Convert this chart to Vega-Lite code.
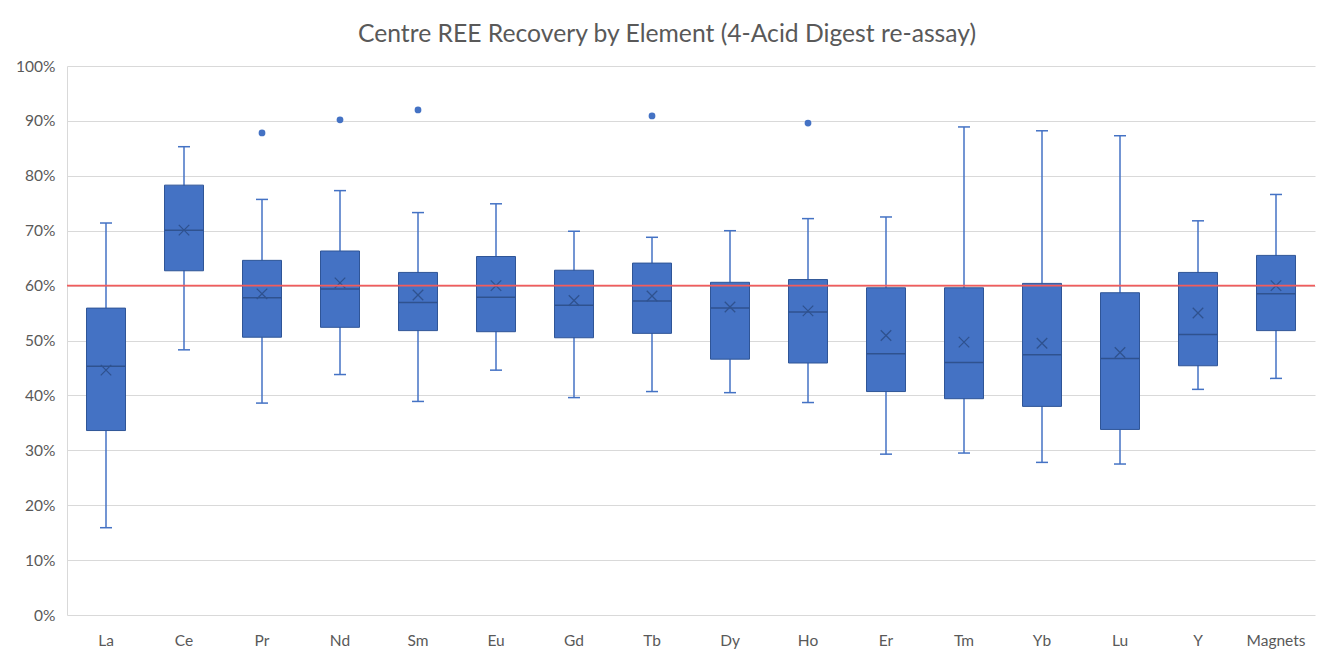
{
  "$schema": "https://vega.github.io/schema/vega-lite/v6.json",
  "width": 1248,
  "height": 549,
  "autosize": {"type": "none"},
  "padding": {"left": 67, "top": 66, "right": 18, "bottom": 42},
  "background": "white",
  "title": {
    "text": "Centre REE Recovery by Element (4-Acid Digest re-assay)",
    "font": "Lato",
    "fontSize": 24.7,
    "fontWeight": "normal",
    "color": "#595959",
    "anchor": "middle",
    "dx": -24,
    "offset": 12
  },
  "config": {
    "view": {"stroke": null},
    "font": "Lato",
    "axis": {"labelFont": "Lato", "labelColor": "#595959", "labelFontSize": 15.5}
  },
  "datasets": {
    "stats": [
      {"el": "La", "min": 15.9, "q1": 33.6, "median": 45.3, "q3": 55.9, "max": 71.4, "mean": 44.6},
      {"el": "Ce", "min": 48.3, "q1": 62.7, "median": 70.1, "q3": 78.3, "max": 85.3, "mean": 70.1},
      {"el": "Pr", "min": 38.6, "q1": 50.6, "median": 57.8, "q3": 64.6, "max": 75.7, "mean": 58.5},
      {"el": "Nd", "min": 43.8, "q1": 52.4, "median": 59.4, "q3": 66.3, "max": 77.3, "mean": 60.5},
      {"el": "Sm", "min": 38.9, "q1": 51.8, "median": 56.9, "q3": 62.4, "max": 73.3, "mean": 58.3},
      {"el": "Eu", "min": 44.6, "q1": 51.6, "median": 57.9, "q3": 65.3, "max": 74.9, "mean": 60.0},
      {"el": "Gd", "min": 39.6, "q1": 50.5, "median": 56.4, "q3": 62.8, "max": 69.9, "mean": 57.3},
      {"el": "Tb", "min": 40.7, "q1": 51.3, "median": 57.2, "q3": 64.1, "max": 68.8, "mean": 58.1},
      {"el": "Dy", "min": 40.5, "q1": 46.6, "median": 55.9, "q3": 60.6, "max": 70.0, "mean": 56.1},
      {"el": "Ho", "min": 38.7, "q1": 45.9, "median": 55.2, "q3": 61.1, "max": 72.2, "mean": 55.4},
      {"el": "Er", "min": 29.3, "q1": 40.7, "median": 47.6, "q3": 59.6, "max": 72.5, "mean": 50.9},
      {"el": "Tm", "min": 29.5, "q1": 39.4, "median": 46.0, "q3": 59.6, "max": 88.9, "mean": 49.7},
      {"el": "Yb", "min": 27.8, "q1": 38.0, "median": 47.4, "q3": 60.4, "max": 88.2, "mean": 49.5},
      {"el": "Lu", "min": 27.5, "q1": 33.8, "median": 46.7, "q3": 58.7, "max": 87.3, "mean": 47.8},
      {"el": "Y", "min": 41.1, "q1": 45.4, "median": 51.1, "q3": 62.4, "max": 71.8, "mean": 55.0},
      {"el": "Magnets", "min": 43.1, "q1": 51.8, "median": 58.5, "q3": 65.5, "max": 76.6, "mean": 60.0}
    ],
    "outliers": [
      {"el": "Pr", "v": 87.8},
      {"el": "Nd", "v": 90.2},
      {"el": "Sm", "v": 92.0},
      {"el": "Tb", "v": 90.9},
      {"el": "Ho", "v": 89.6}
    ]
  },
  "encoding": {
    "x": {
      "field": "el",
      "type": "nominal",
      "sort": ["La","Ce","Pr","Nd","Sm","Eu","Gd","Tb","Dy","Ho","Er","Tm","Yb","Lu","Y","Magnets"],
      "scale": {"paddingInner": 0, "paddingOuter": 0},
      "axis": {"title": null, "labelAngle": 0, "ticks": false, "domain": false, "labelPadding": 18, "grid": false}
    }
  },
  "layer": [
    {
      "data": {"name": "stats"},
      "mark": {"type": "rule", "color": "#4472C4", "strokeWidth": 1.5},
      "encoding": {
        "y": {
          "field": "min", "type": "quantitative",
          "scale": {"domain": [0, 100], "nice": false},
          "axis": {
            "title": null, "values": [0,10,20,30,40,50,60,70,80,90,100],
            "labelExpr": "datum.value + '%'", "ticks": false, "domain": true,
            "domainColor": "#D9D9D9", "gridColor": "#D9D9D9", "labelPadding": 12
          }
        },
        "y2": {"field": "max"}
      }
    },
    {
      "data": {"name": "stats"},
      "mark": {"type": "tick", "color": "#4472C4", "size": 12, "thickness": 1.5, "opacity": 1},
      "encoding": {"y": {"field": "min", "type": "quantitative"}}
    },
    {
      "data": {"name": "stats"},
      "mark": {"type": "tick", "color": "#4472C4", "size": 12, "thickness": 1.5, "opacity": 1},
      "encoding": {"y": {"field": "max", "type": "quantitative"}}
    },
    {
      "data": {"name": "stats"},
      "mark": {"type": "bar", "size": 39, "color": "#4472C4", "stroke": "#2F5597", "strokeWidth": 1, "opacity": 1},
      "encoding": {"y": {"field": "q1", "type": "quantitative"}, "y2": {"field": "q3"}}
    },
    {
      "data": {"name": "stats"},
      "mark": {"type": "tick", "color": "#2F528F", "size": 39, "thickness": 1.5, "opacity": 1},
      "encoding": {"y": {"field": "median", "type": "quantitative"}}
    },
    {
      "data": {"name": "stats"},
      "mark": {"type": "point", "shape": "M-1,-1L1,1M1,-1L-1,1", "size": 110, "filled": false, "stroke": "#2F528F", "strokeWidth": 1.3, "opacity": 1},
      "encoding": {"y": {"field": "mean", "type": "quantitative"}}
    },
    {
      "data": {"name": "outliers"},
      "mark": {"type": "circle", "size": 46, "color": "#4472C4", "opacity": 1},
      "encoding": {"y": {"field": "v", "type": "quantitative"}}
    },
    {
      "data": {"values": [{"ref": 60}]},
      "mark": {"type": "rule", "color": "#F25C5C", "strokeWidth": 1.6, "opacity": 1},
      "encoding": {"y": {"field": "ref", "type": "quantitative"}, "x": null}
    }
  ]
}
